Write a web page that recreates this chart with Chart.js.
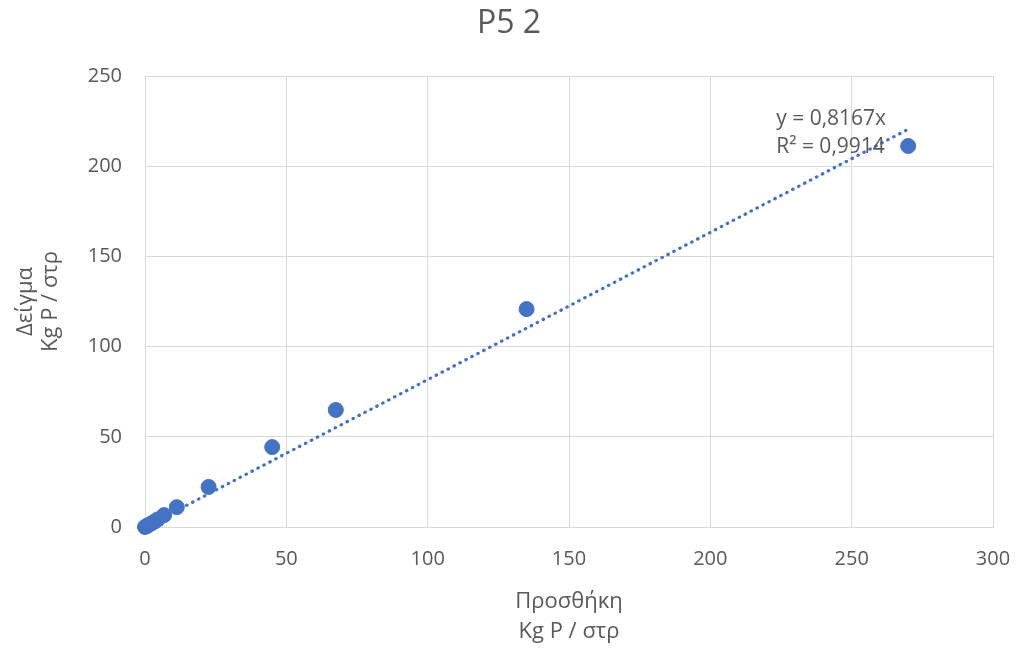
<!DOCTYPE html>
<html>
<head>
<meta charset="utf-8">
<script src="https://cdn.jsdelivr.net/npm/chart.js@4"></script>
<style>
  html, body { margin: 0; padding: 0; background: #fff; }
  #wrap { width: 1018px; height: 650px; }
</style>
</head>
<body>
<div id="wrap"><canvas id="c" width="1018" height="650"></canvas></div>
<script>
const chartTitle = 'P5 2';
const xAxisTitle = ['Προσθήκη', 'Kg P / στρ'];
const yAxisTitle = ['Δείγμα', 'Kg P / στρ'];
const xValues = [0, 0.56, 1.125, 2.25, 3.375, 4.5, 6.75, 11.25, 22.5, 45, 67.5, 135, 270];
const yValues = [0, 0.5, 1.0, 2.0, 3.0, 4.2, 6.6, 11.0, 22.2, 44.3, 64.9, 120.8, 211.2];
const trendSlope = 0.8167;
const trendLabel = ['y = 0,8167x', 'R² = 0,9914'];
const xTicks = [0, 50, 100, 150, 200, 250, 300];
const yTicks = [0, 50, 100, 150, 200, 250];

const blue = '#4472C4';
const textColor = '#595959';
const gridColor = '#d9d9d9';
const fontFamily = "'Open Sans', 'Noto Sans', sans-serif";

const points = xValues.map((x, i) => ({ x: x, y: yValues[i] }));
const xMaxData = Math.max(...xValues);
const trendPoints = [{ x: 0, y: 0 }, { x: xMaxData, y: trendSlope * xMaxData }];

const trendLabelPlugin = {
  id: 'trendLabel',
  afterDatasetsDraw(chart) {
    const { ctx, scales } = chart;
    const x = scales.x.getPixelForValue(223.3);
    const y = scales.y.getPixelForValue(226);
    ctx.save();
    ctx.font = '21px ' + fontFamily;
    ctx.fillStyle = textColor;
    ctx.textAlign = 'left';
    ctx.textBaseline = 'middle';
    trendLabel.forEach((t, i) => ctx.fillText(t, x, y + i * 28));
    ctx.restore();
  }
};

new Chart(document.getElementById('c'), {
  type: 'scatter',
  data: {
    datasets: [
      {
        label: 'Δείγμα',
        data: points,
        backgroundColor: blue,
        borderColor: blue,
        pointRadius: 7.5,
        pointHoverRadius: 7.5,
        clip: false,
        order: 1
      },
      {
        label: 'Trend',
        type: 'line',
        data: trendPoints,
        borderColor: blue,
        borderWidth: 3.2,
        borderDash: [0.5, 6.2],
        borderCapStyle: 'round',
        pointRadius: 0,
        fill: false,
        order: 2
      }
    ]
  },
  options: {
    responsive: false,
    animation: false,
    layout: { padding: 0 },
    plugins: {
      legend: { display: false },
      tooltip: { enabled: false },
      title: {
        display: true,
        text: chartTitle,
        color: textColor,
        font: { family: fontFamily, size: 32, weight: 'normal' },
        padding: { top: 5, bottom: 32.6 }
      }
    },
    scales: {
      x: {
        type: 'linear',
        min: 0, max: 300,
        afterBuildTicks: (s) => { s.ticks = xTicks.map(v => ({ value: v })); },
        afterFit: (s) => { s.height = 650 - 527; s.paddingLeft = 0; s.paddingRight = 25; },
        grid: { color: gridColor, lineWidth: 1, drawTicks: false },
        border: { display: true, color: gridColor },
        ticks: { color: textColor, font: { family: fontFamily, size: 20 }, padding: 20 },
        title: {
          display: true,
          text: xAxisTitle,
          color: textColor,
          font: { family: fontFamily, size: 22, lineHeight: 1.36 },
          padding: { top: 12, bottom: 3 }
        }
      },
      y: {
        type: 'linear',
        min: 0, max: 250,
        afterBuildTicks: (s) => { s.ticks = yTicks.map(v => ({ value: v })); },
        afterFit: (s) => { s.width = 145; s.paddingTop = 0; s.paddingBottom = 0; },
        grid: { color: gridColor, lineWidth: 1, drawTicks: false },
        border: { display: true, color: gridColor },
        ticks: { color: textColor, font: { family: fontFamily, size: 20 }, padding: 23 },
        title: {
          display: true,
          text: yAxisTitle,
          color: textColor,
          font: { family: fontFamily, size: 22, lineHeight: 1.14 },
          padding: { top: 13.5, bottom: 0 }
        }
      }
    }
  },
  plugins: [trendLabelPlugin]
});
</script>
</body>
</html>
